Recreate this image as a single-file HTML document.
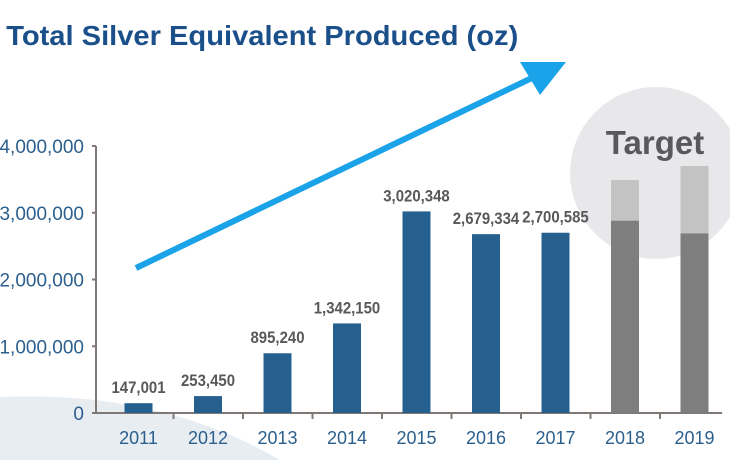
<!DOCTYPE html>
<html><head><meta charset="utf-8"><style>
html,body{margin:0;width:730px;height:460px;overflow:hidden;background:#fff;font-family:"Liberation Sans",sans-serif}
svg{display:block}
</style></head><body>
<svg width="730" height="460" viewBox="0 0 730 460">
<path d="M0,397 Q160,390 280,460 L0,460Z" fill="#e8edf2"/>
<circle cx="656" cy="173" r="86" fill="#e8e8ea"/>
<text x="6" y="45" font-size="28" font-weight="bold" fill="#1b4f8a" transform="scale(1.04,1)">Total Silver Equivalent Produced (oz)</text>
<text x="655" y="154" font-size="33" font-weight="bold" fill="#58595b" text-anchor="middle">Target</text>
<g id="axes"></g>
<g id="bars"></g>
<line x1="136" y1="268" x2="538" y2="75" stroke="#1aa3e8" stroke-width="6"/>
<polygon points="566,62 520,62 540,95" fill="#1aa3e8"/>
</svg>
<script>
const years=["2011","2012","2013","2014","2015","2016","2017","2018","2019"];
const actual=[147001,253450,895240,1342150,3020348,2679334,2700585,2880000,2690000];
const target=[0,0,0,0,0,0,0,3490000,3700000];
const labels=["147,001","253,450","895,240","1,342,150","3,020,348","2,679,334","2,700,585","",""];
const yTicks=[0,1000000,2000000,3000000,4000000];
const yTickLabels=["0","1,000,000","2,000,000","3,000,000","4,000,000"];
const NS="http://www.w3.org/2000/svg";
const y0=413,y1=146,x0=104,step=69.5,bw=28;
const y=v=>y0-(v/4000000)*(y0-y1);
const xc=i=>x0+step*i+34.5;
function mk(t,a,p){const e=document.createElementNS(NS,t);for(const k in a)e.setAttribute(k,a[k]);p.appendChild(e);return e;}
const ax=document.getElementById('axes'),bg=document.getElementById('bars');
let l=mk('line',{x1:96,y1:y1,x2:96,y2:y0,stroke:'#7f7875','stroke-width':2},ax);


l=mk('line',{x1:92,y1:y0,x2:722,y2:y0,stroke:'#7f7875','stroke-width':2},ax);


yTicks.forEach((v,i)=>{
 const t=mk('line',{x1:92,y1:y(v),x2:96,y2:y(v),stroke:'#7f7875','stroke-width':2},ax);
 
 
 const tx=mk('text',{x:84,y:y(v)+7,'font-size':19,fill:'#2b5f8e','text-anchor':'end'},ax);
 tx.textContent=yTickLabels[i];
 
 
});
years.forEach((yr,i)=>{
 if(i>0){const t=mk('line',{x1:x0+step*i,y1:y0,x2:x0+step*i,y2:y0+6,stroke:'#7f7875','stroke-width':2},ax);
 
 }
 const tx=mk('text',{x:xc(i),y:444,'font-size':18,fill:'#2b5f8e','text-anchor':'middle'},ax);
 tx.textContent=yr;
 
 
 const isT=target[i]>0;
 if(isT){const r=mk('rect',{x:xc(i)-bw/2,y:y(target[i]),width:bw,height:y0-y(target[i]),fill:'#c4c3c4'},bg);
 
 }
 const r=mk('rect',{x:xc(i)-bw/2,y:y(actual[i]),width:bw,height:y0-y(actual[i]),fill:isT?'#7d7e7d':'#26608f'},bg);
 
 
 if(labels[i]){const v=mk('text',{x:xc(i)/0.88,y:y(actual[i])-10,'font-size':17,'font-weight':'bold',fill:'#58595b','text-anchor':'middle',transform:'scale(0.88,1)'},bg);
 v.textContent=labels[i];
 
 }
});
</script>
</body></html>
